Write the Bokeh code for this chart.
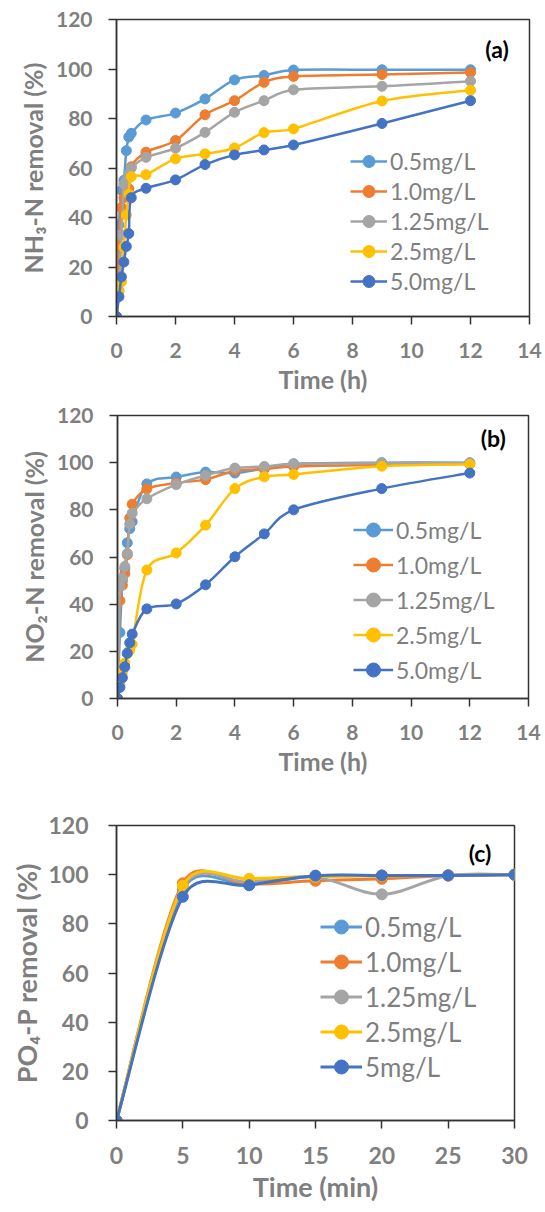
import numpy as np
from bokeh.plotting import figure
from bokeh.models import Range1d, Legend, LegendItem, ColumnDataSource, Label, FixedTicker
from bokeh.embed import file_html
from bokeh.resources import INLINE

# ---------------- data ----------------
labels_ab = ["0.5mg/L", "1.0mg/L", "1.25mg/L", "2.5mg/L", "5.0mg/L"]
labels_c = ["0.5mg/L", "1.0mg/L", "1.25mg/L", "2.5mg/L", "5mg/L"]
colors = ["#5B9BD5", "#ED7D31", "#A5A5A5", "#FFC000", "#4472C4"]

time_h = [0, 0.083, 0.167, 0.25, 0.333, 0.417, 0.5, 1, 2, 3, 4, 5, 6, 9, 12]
time_min = [0, 5, 10, 15, 20, 25, 30]

# (a) NH3-N removal (%)
nh3_05 = [0, 37, 51, 55, 67, 72.5, 74, 79.4, 82.2, 87.9, 95.6, 97.4, 99.6, 99.7, 99.7]
nh3_10 = [0, 28.7, 44, 48, 50, 51.6, 60.5, 66.4, 71.1, 81.5, 87.2, 94.6, 97.0, 97.8, 98.6]
nh3_125 = [0, 10.5, 33, 53.5, 55, 57.5, 60, 64.3, 68, 74.4, 82.5, 87.2, 91.6, 93, 95.1]
nh3_25 = [0, 10, 14, 28, 41, 49.5, 56.5, 57.3, 63.7, 65.7, 68.1, 74.3, 75.8, 87.1, 91.4]
nh3_50 = [0, 8, 16, 22, 28.3, 33.5, 48, 51.8, 55.2, 61.4, 65.3, 67.3, 69.3, 78.0, 87.2]

# (b) NO2-N removal (%)
no2_05 = [0, 28, 50, 55, 66, 72, 75, 91, 93.9, 96, 95.6, 97.6, 99.5, 100, 100]
no2_10 = [0, 41.5, 48, 53, 61, 76.5, 82.4, 88.9, 91.4, 92.8, 96.6, 97.3, 98.4, 99.1, 99.5]
no2_125 = [0, 47.5, 51, 56, 61.5, 74, 78.6, 84.7, 90.7, 94.6, 97.7, 98.4, 99.5, 99.8, 99.8]
no2_25 = [0, 6, 11, 15, 19, 20.5, 23, 54.5, 61.7, 73.5, 89, 94, 95, 98.5, 99.3]
no2_50 = [0, 4.7, 8.8, 13.4, 19.2, 23.6, 27.3, 38.0, 40.1, 48.2, 60.1, 69.8, 80.0, 89.0, 95.6]

# (c) PO4-P removal (%)
po4_05 = [0, 94, 96, 99.5, 99.6, 99.7, 100]
po4_10 = [0, 96.5, 96, 97.5, 98.3, 99.7, 100]
po4_125 = [0, 95, 97, 99, 92, 99.6, 100]
po4_25 = [0, 95.5, 98.3, 99.2, 99.5, 99.7, 100]
po4_50 = [0, 91, 95.7, 99.6, 99.7, 99.7, 100]

x_ticks_h = [0, 2, 4, 6, 8, 10, 12, 14]
x_ticks_min = [0, 5, 10, 15, 20, 25, 30]
y_ticks = [0, 20, 40, 60, 80, 100, 120]

FONT = "Lato"
GRAY = "#7F7F7F"
DARK = "#333333"


def smooth(xs, ys, sx, sy):
    """Excel-like smoothed line: cubic Bezier segments through the data points.
    sx, sy: pixels per data unit (used to limit the control arms in screen space)."""
    x = np.asarray(xs, float) * sx
    y = np.asarray(ys, float) * sy
    n = len(x)
    xp = np.concatenate([[x[0]], x, [x[-1]]])
    yp = np.concatenate([[y[0]], y, [y[-1]]])
    d = dict(x0=[], y0=[], x1=[], y1=[], cx0=[], cy0=[], cx1=[], cy1=[])
    for i in range(n - 1):
        j = i + 1
        seg = np.hypot(x[i + 1] - x[i], y[i + 1] - y[i])
        ax_, ay_ = (xp[j + 1] - xp[j - 1]) / 6.0, (yp[j + 1] - yp[j - 1]) / 6.0
        bx_, by_ = (xp[j + 2] - xp[j]) / 6.0, (yp[j + 2] - yp[j]) / 6.0
        la, lb = np.hypot(ax_, ay_), np.hypot(bx_, by_)
        ka = min(1.0, 0.5 * seg / la) if la > 0 else 1.0
        kb = min(1.0, 0.5 * seg / lb) if lb > 0 else 1.0
        d["x0"].append(x[i] / sx); d["y0"].append(y[i] / sy)
        d["x1"].append(x[i + 1] / sx); d["y1"].append(y[i + 1] / sy)
        d["cx0"].append((x[i] + ka * ax_) / sx)
        d["cy0"].append((y[i] + ka * ay_) / sy)
        d["cx1"].append((x[i + 1] - kb * bx_) / sx)
        d["cy1"].append((y[i + 1] - kb * by_) / sy)
    return ColumnDataSource(d)


def make_panel(xs, series, labels, xmax, xticks, xlabel, ylabel, tag, tag_xy,
               width, height, borders, tick_fs, title_fs, legend_fs,
               leg_loc, glyph_w, glyph_h, msize, lw, y_lab_standoff, y_title_standoff):
    p = figure(width=width, height=height, output_backend="svg", toolbar_location=None,
               x_range=Range1d(0, xmax), y_range=Range1d(0, 120),
               min_border_left=borders[0], min_border_right=borders[1],
               min_border_top=borders[2], min_border_bottom=borders[3])
    p.grid.visible = False
    p.outline_line_color = DARK
    p.outline_line_width = 1.5
    p.background_fill_color = "white"
    p.border_fill_color = "white"

    frame_w = width - borders[0] - borders[1]
    frame_h = height - borders[2] - borders[3]
    sx, sy = frame_w / xmax, frame_h / 120.0

    items = []
    for ys, lab, col in zip(series, labels, colors):
        src = smooth(xs, ys, sx, sy)
        r1 = p.bezier(x0="x0", y0="y0", x1="x1", y1="y1", cx0="cx0", cy0="cy0",
                      cx1="cx1", cy1="cy1", source=src, line_color=col, line_width=lw)
        r2 = p.scatter(xs, ys, marker="circle", size=msize, fill_color=col, line_color=col)
        items.append(LegendItem(label=lab, renderers=[r1, r2]))

    leg = Legend(items=items, location=leg_loc, orientation="vertical",
                 background_fill_alpha=0, border_line_alpha=0,
                 padding=0, margin=0, spacing=0,
                 glyph_width=glyph_w, glyph_height=glyph_h, label_height=glyph_h,
                 label_standoff=3, label_text_font=FONT, label_text_font_size=f"{legend_fs}px",
                 label_text_color=GRAY)
    p.add_layout(leg, "center")

    for ax in (p.xaxis[0], p.yaxis[0]):
        ax.axis_line_color = DARK
        ax.axis_line_width = 1.5
        ax.major_tick_line_color = DARK
        ax.major_tick_line_width = 1.5
        ax.major_tick_out = 8
        ax.major_tick_in = 0
        ax.minor_tick_out = 0
        ax.minor_tick_in = 0
        ax.major_label_text_font = FONT
        ax.major_label_text_font_style = "bold"
        ax.major_label_text_font_size = f"{tick_fs}px"
        ax.major_label_text_color = GRAY
        ax.axis_label_text_font = FONT
        ax.axis_label_text_font_style = "bold"
        ax.axis_label_text_font_size = f"{title_fs}px"
        ax.axis_label_text_color = GRAY
    p.xaxis.ticker = FixedTicker(ticks=xticks)
    p.yaxis.ticker = FixedTicker(ticks=y_ticks)
    p.xaxis.axis_label = xlabel
    p.yaxis.axis_label = ylabel
    p.xaxis.major_label_standoff = 18
    p.yaxis.major_label_standoff = y_lab_standoff
    p.xaxis.axis_label_standoff = 3
    p.yaxis.axis_label_standoff = y_title_standoff

    p.add_layout(Label(x=tag_xy[0], y=tag_xy[1], text=tag, text_font=FONT,
                       text_font_style="bold", text_font_size="23px", text_color="black",
                       text_align="center", text_baseline="middle"))
    return p


pa = make_panel(time_h, [nh3_05, nh3_10, nh3_125, nh3_25, nh3_50], labels_ab, 14, x_ticks_h,
                "Time (h)", "NH₃-N removal (%)", "(a)", (12.9, 108),
                543, 398, (116, 14, 19, 82), 21, 25, 23, (234, 20), 37, 30, 10, 2.5, 16, 5)
pb = make_panel(time_h, [no2_05, no2_10, no2_125, no2_25, no2_50], labels_ab, 14, x_ticks_h,
                "Time (h)", "NO₂-N removal (%)", "(b)", (12.8, 110.5),
                543, 380, (117, 15, 17, 76), 21, 25, 23, (236, 11), 40, 35, 10, 2.5, 16, 5)
pc = make_panel(time_min, [po4_05, po4_10, po4_125, po4_25, po4_50], labels_c, 30, x_ticks_min,
                "Time (min)", "PO₄-P removal (%)", "(c)", (27.4, 109),
                543, 430, (116, 29, 47, 88), 23, 27, 26, (204, 36), 42, 35, 11, 3, 20, 2)

# three independent roots stacked on the page (so their frames are not forced to align)
open("out.html", "w").write(file_html([pa, pb, pc], INLINE))
